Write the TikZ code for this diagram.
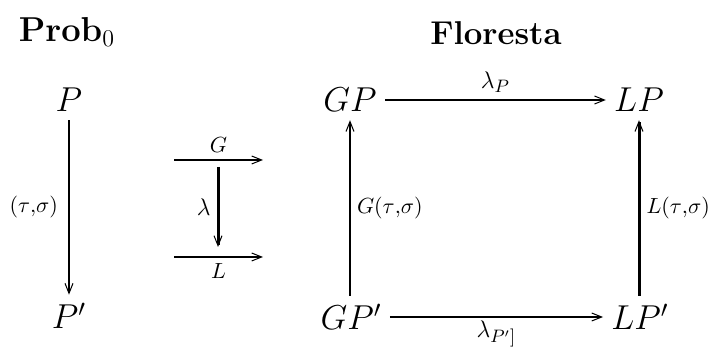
\documentclass[tikz,border=0pt]{standalone}
\usepackage{amsmath}
\usepackage{amssymb}
\usetikzlibrary{arrows.meta, positioning, calc}

\begin{document}
\begin{tikzpicture}[x=0.5pt, y=-0.5pt,
  obj/.style={font=\LARGE, inner sep=4pt},
  lbl/.style={font=\fontsize{10.5}{13}\selectfont, inner sep=3pt},
  biglbl/.style={lbl, font=\fontsize{12.5}{15}\selectfont},
  ttl/.style={font=\fontsize{16.5}{20}\selectfont},
  arr/.style={line width=1pt, -{Straight Barb[length=5pt, width=4pt, line width=0.5pt]}},
  thickarr/.style={arr, line width=1.5pt}]
  \useasboundingbox (0,0) rectangle (708,347);
  % titles
  \node[ttl] (prob) at (67,32) {$\mathbf{Prob}_0$};
  \node[ttl] (flor) at (496,33) {\textbf{Floresta}};
  % left column
  \node[obj] (P) at (69,100) {$P$};
  \node[obj] (Pp) at (69,316) {$P'$};
  \draw[arr] (P) -- node[lbl, left, inner sep=5pt] {$(\tau{,}\sigma)$} (Pp);
  % functors G, L and lambda
  \coordinate (g0) at (174,160);
  \coordinate (g1) at (263,160);
  \coordinate (l0) at (174,257);
  \coordinate (l1) at (263,257);
  \coordinate (lt) at (218,167);
  \coordinate (lb) at (218,247);
  \draw[arr] (g0) -- node[lbl, above] {$G$} (g1);
  \draw[arr] (l0) -- node[lbl, below] {$L$} (l1);
  \draw[thickarr] (lt) -- node[biglbl, left] {$\lambda$} (lb);
  % square
  \node[obj] (GP) at (350,100) {$GP$};
  \node[obj] (LP) at (639,100) {$LP$};
  \node[obj] (GPp) at (351,317) {$GP'$};
  \node[obj] (LPp) at (640,317) {$LP'$};
  \draw[arr] (GP) -- node[biglbl, above] {$\lambda_P$} (LP);
  \draw[arr] (GPp) -- node[biglbl, below, inner sep=1.5pt] {$\lambda_{P']}$} (LPp);
  \draw[arr] (GPp.north -| GP) -- node[lbl, right] {$G(\tau{,}\sigma)$} (GP);
  \draw[thickarr] (LPp.north -| LP) -- node[lbl, right] {$L(\tau{,}\sigma)$} (LP);
\end{tikzpicture}
\end{document}
